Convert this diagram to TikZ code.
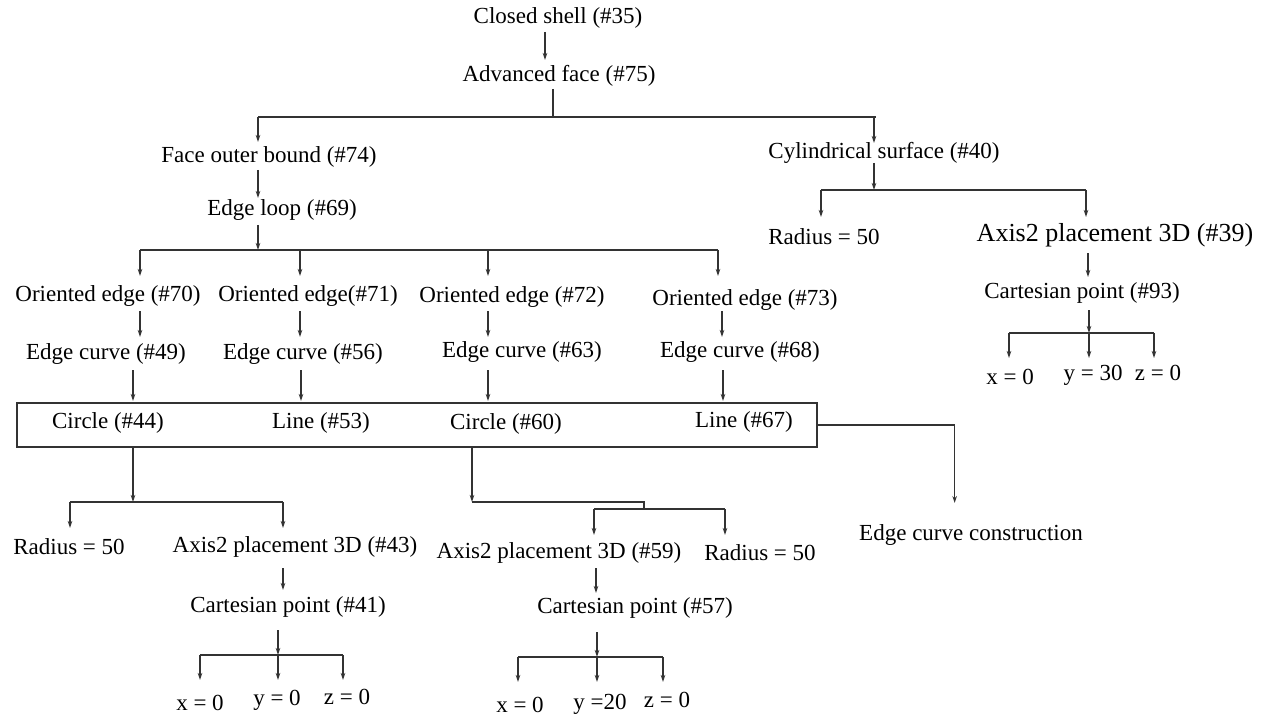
\documentclass[tikz,border=0pt]{standalone}
\usepackage{fontspec}
\setmainfont{Liberation Serif}
\usetikzlibrary{arrows.meta}
\begin{document}
\begin{tikzpicture}[x=1pt,y=-1pt,
  lbl/.style={font=\fontsize{23}{26}\selectfont, inner sep=0pt},
  big/.style={font=\fontsize{26}{30}\selectfont, inner sep=0pt},
  wire/.style={line width=1.3pt, draw=black!80},
  arr/.style={wire, -{Stealth[length=7pt,width=4.5pt]}}]
\useasboundingbox (0,0) rectangle (1265,719);

% ---------- nodes ----------
\node[lbl] (n35) at (558,18) {Closed shell (\#35)};
\node[lbl] (n75) at (559,76) {Advanced face (\#75)};
\node[lbl] (n74) at (269,157) {Face outer bound (\#74)};
\node[lbl] (n69) at (282,210) {Edge loop (\#69)};
\node[lbl] (n40) at (884,153) {Cylindrical surface (\#40)};
\node[lbl] (r40) at (824,237) {Radius = 50};
\node[big] (n39) at (1115,235) {Axis2 placement 3D (\#39)};
\node[lbl] (n93) at (1082,293) {Cartesian point (\#93)};
\node[lbl] (x93) at (1010,377) {x = 0};
\node[lbl] (y93) at (1093,375) {y = 30};
\node[lbl] (z93) at (1158,373) {z = 0};
\node[lbl] (n70) at (108,296) {Oriented edge (\#70)};
\node[lbl] (n71) at (308,296) {Oriented edge(\#71)};
\node[lbl] (n72) at (512,297) {Oriented edge (\#72)};
\node[lbl] (n73) at (745,300) {Oriented edge (\#73)};
\node[lbl] (n49) at (106,354) {Edge curve (\#49)};
\node[lbl] (n56) at (303,354) {Edge curve (\#56)};
\node[lbl] (n63) at (522,352) {Edge curve (\#63)};
\node[lbl] (n68) at (740,352) {Edge curve (\#68)};
\node[wire, draw, minimum width=800pt, minimum height=44pt, inner sep=0pt] (box) at (417,425) {};
\node[lbl] (n44) at (108,423) {Circle (\#44)};
\node[lbl] (n53) at (321,423) {Line (\#53)};
\node[lbl] (n60) at (506,424) {Circle (\#60)};
\node[lbl] (n67) at (744,422) {Line (\#67)};
\node[lbl] (ecc) at (971,535) {Edge curve construction};
\node[lbl] (r44) at (69,547) {Radius = 50};
\node[lbl] (n43) at (295,547) {Axis2 placement 3D (\#43)};
\node[lbl] (n41) at (288,607) {Cartesian point (\#41)};
\node[lbl] (x41) at (200,703) {x = 0};
\node[lbl] (y41) at (277,700) {y = 0};
\node[lbl] (z41) at (347,697) {z = 0};
\node[lbl] (n59) at (559,553) {Axis2 placement 3D (\#59)};
\node[lbl] (r60) at (760,553) {Radius = 50};
\node[lbl] (n57) at (635,608) {Cartesian point (\#57)};
\node[lbl] (x57) at (520,705) {x = 0};
\node[lbl] (y57) at (600,704) {y =20};
\node[lbl] (z57) at (667,700) {z = 0};

% ---------- connectors ----------
\draw[arr] (545,32) -- (545,60);
\draw[wire] (553,89) -- (553,117);
\draw[wire] (258,117) -- (876,117);
\draw[arr] (258,117) -- (258,142);
\draw[arr] (258,170) -- (258,198);
\draw[arr] (258,225) -- (258,250);
\draw[wire] (140,250) -- (718,250);
\foreach \x in {140,300,488,718} \draw[arr] (\x,250) -- (\x,276);
\foreach \x in {140,300,488,722} \draw[arr] (\x,311) -- (\x,337);
\foreach \x in {133,301,488,723} \draw[arr] (\x,370) -- (\x,401);

\draw[arr] (box.east) -- ++(137,0) -- ++(0,78);

\draw[arr] (133,447) -- (133,502);
\draw[wire] (70,502) -- (283,502);
\foreach \x in {70,283} \draw[arr] (\x,502) -- (\x,528);
\draw[arr] (283,568) -- (283,590);
\draw[arr] (278,630) -- (278,655);
\draw[wire] (200,655) -- (343,655);
\foreach \x in {200,278,343} \draw[arr] (\x,655) -- (\x,680);

\draw[arr] (472,447) -- (472,502);
\draw[wire] (472,502) -- (644,502) -- (644,509);
\draw[wire] (594,509) -- (725,509);
\foreach \x in {594,725} \draw[arr] (\x,509) -- (\x,535);
\draw[arr] (596,568) -- (596,593);
\draw[arr] (597,632) -- (597,657);
\draw[wire] (518,657) -- (663,657);
\foreach \x in {518,597,663} \draw[arr] (\x,657) -- (\x,682);

\draw[arr] (874,117) -- (874,143);
\draw[arr] (874,163) -- (874,190);
\draw[wire] (821,190) -- (1086,190);
\foreach \x in {821,1086} \draw[arr] (\x,190) -- (\x,217);
\draw[arr] (1088,253) -- (1088,277);
\draw[arr] (1089,310) -- (1089,333);
\draw[wire] (1009,333) -- (1154,333);
\foreach \x in {1009,1089,1154} \draw[arr] (\x,333) -- (\x,358);
\end{tikzpicture}
\end{document}
